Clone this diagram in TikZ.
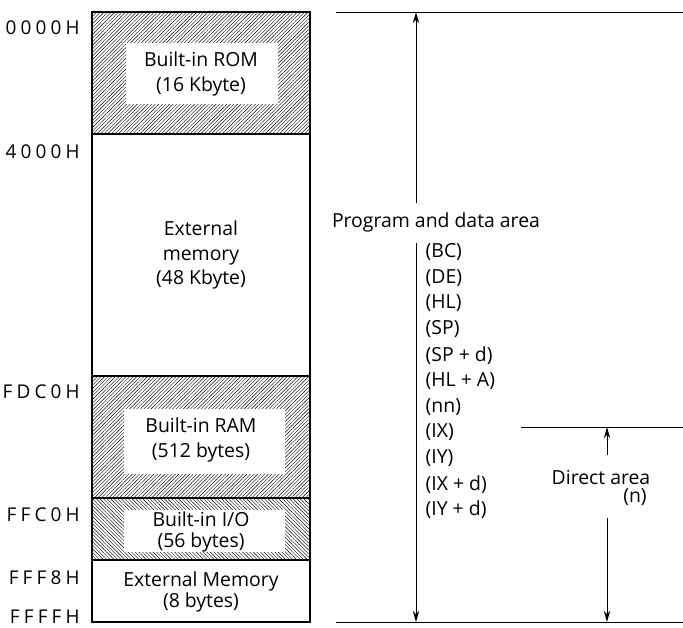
\documentclass[tikz,border=0pt]{standalone}
\usepackage{fontspec}
\setmainfont{Open Sans}
\newfontfamily\addrfont[LetterSpace=22]{Open Sans}
\usetikzlibrary{patterns.meta,arrows.meta}

\tikzset{
  region/.style={draw=black, line width=0.9pt},
  hatchne/.style={pattern={Lines[angle=45,distance=1.8pt,line width=0.3pt]}},
  hatchnw/.style={pattern={Lines[angle=-45,distance=1.8pt,line width=0.3pt]}},
  lbl/.style={align=center, inner sep=1pt, font=\fontsize{13.8}{17.5}\selectfont},
  addr/.style={anchor=east, inner sep=0pt, font=\addrfont\fontsize{13.5}{14}\selectfont},
  limit/.style={draw=black, line width=0.7pt},
  dim/.style={line width=0.7pt, -{Stealth[length=8pt,width=4.5pt]}},
}

\begin{document}
\begin{tikzpicture}

    \useasboundingbox (0,0) rectangle (17.075,15.7);

    % rayado de las zonas internas
    \path[hatchne] (2.3,12.35) rectangle (7.75,15.4);
    \path[hatchne] (2.3,3.25) rectangle (7.75,6.3);
    \path[hatchnw] (2.3,1.7) rectangle (7.75,3.25);

    % huecos blancos para el texto
    \fill[white] (3.15,13.1) rectangle (6.95,14.625);
    \fill[white] (3.1,3.85) rectangle (7.125,5.475);
    \fill[white] (3.1,1.9) rectangle (7.125,2.95);

    % mapa de memoria
    \draw[region] (2.3,0.15) rectangle (7.75,15.4);
    \draw[region] (2.3,12.35) -- (7.75,12.35);
    \draw[region] (2.3,6.3) -- (7.75,6.3);
    \draw[region] (2.3,3.25) -- (7.75,3.25);
    \draw[region] (2.3,1.7) -- (7.75,1.7);

    % zonas
    \node[lbl] (rom) at (5.025,13.85) {Built-in ROM\\(16 Kbyte)};
    \node[lbl] (extmem) at (5.025,9.325) {External\\memory\\(48 Kbyte)};
    \node[lbl] (ram) at (5.025,4.7) {Built-in RAM\\(512 bytes)};
    \node[lbl, font=\fontsize{13.8}{14.5}\selectfont] (io) at (5.025,2.4) {Built-in I/O\\(56 bytes)};
    \node[lbl, font=\fontsize{13.8}{15}\selectfont] (extsmall) at (5.025,0.9) {External Memory\\(8 bytes)};

    % direcciones
    \node[addr] (a0000) at (2.0,15.0) {0000H};
    \node[addr] (a4000) at (2.0,11.9) {4000H};
    \node[addr] (afdc0) at (2.0,5.9) {FDC0H};
    \node[addr] (affc0) at (2.0,2.825) {FFC0H};
    \node[addr] (afff8) at (2.0,1.25) {FFF8H};
    \node[addr] (affff) at (2.0,0.275) {FFFFH};

    % limites del area
    \coordinate (topL) at (8.4,15.4);
    \coordinate (topR) at (17.075,15.4);
    \coordinate (botL) at (8.4,0.15);
    \coordinate (botR) at (17.075,0.15);
    \coordinate (dirL) at (13.025,5.025);
    \coordinate (dirR) at (17.075,5.025);
    \draw[limit] (topL) -- (topR);
    \draw[limit] (botL) -- (botR);
    \draw[limit] (dirL) -- (dirR);

    % area de programa y datos
    \node[lbl] (pgarea) at (10.9,10.15) {Program and data area};
    \coordinate (pgtop) at (10.4,15.4);
    \coordinate (pgbrk1) at (10.4,10.625);
    \coordinate (pgbrk2) at (10.4,9.625);
    \coordinate (pgbot) at (10.4,0.15);
    \draw[dim] (pgbrk1) -- (pgtop);
    \draw[dim] (pgbrk2) -- (pgbot);

    % modos de direccionamiento
    \foreach \r [count=\i] in {{(BC)},{(DE)},{(HL)},{(SP)},{(SP + d)},{(HL + A)},{(nn)},{(IX)},{(IY)},{(IX + d)},{(IY + d)}}
        \node[lbl, anchor=west] (mode\i) at (10.6,{9.4-0.645*(\i-1)}) {\r};

    % area directa
    \node[lbl] (direct) at (15.025,3.775) {Direct area};
    \node[lbl] (dirn) at (15.875,3.275) {(n)};
    \coordinate (dtop) at (15.175,5.025);
    \coordinate (dbrk1) at (15.175,4.325);
    \coordinate (dbrk2) at (15.175,2.75);
    \coordinate (dbot) at (15.175,0.15);
    \draw[dim] (dbrk1) -- (dtop);
    \draw[dim] (dbrk2) -- (dbot);

\end{tikzpicture}
\end{document}
